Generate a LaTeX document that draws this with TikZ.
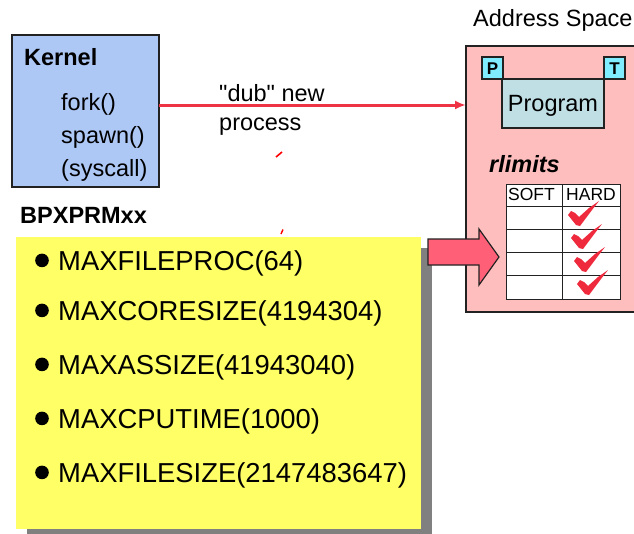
\documentclass[tikz,border=0pt]{standalone}
\usepackage{fontspec}
\setmainfont{Liberation Sans}
\usetikzlibrary{arrows.meta}

\definecolor{kernelblue}{HTML}{AEC8F6}
\definecolor{spacepink}{HTML}{FFBEBE}
\definecolor{tagcyan}{HTML}{80ECFF}
\definecolor{progblue}{HTML}{BFDFE5}
\definecolor{noteyellow}{HTML}{FFFF66}
\definecolor{linkred}{HTML}{EE3344}
\definecolor{arrowred}{HTML}{FF6078}
\definecolor{tickred}{HTML}{EE2A3C}
\definecolor{shadowgray}{HTML}{808080}
\definecolor{edge}{HTML}{222222}

\newcommand{\fsize}[1]{\fontsize{#1}{#1}\selectfont}
% straight double quote, set as a glyph so no quote mapping applies
\newcommand{\sq}{\XeTeXglyph\XeTeXcharglyph"22 }

\tikzset{
  box/.style={draw=edge, line width=1.3pt, inner sep=0pt, outer sep=0pt, anchor=north west},
  txt/.style={inner sep=0pt, anchor=base west, font=\fsize{23.5}},
  tagtxt/.style={inner sep=0pt, anchor=base, font=\fsize{17}\bfseries},
  headtxt/.style={inner sep=0pt, anchor=base west, font=\fsize{17.5}},
  itemtxt/.style={inner sep=0pt, anchor=base west, font=\fsize{27.4}},
  hardtick/.pic={
    \fill[tickred] (0,1) -- (3,-3) -- (7,-1) -- (11,3) -- (21,-6)
      -- (31,-13) -- (24,-4) -- (12,12) -- (8,11) -- cycle;
  }
}

\begin{document}
\begin{tikzpicture}[x=1pt,y=-1pt]
\useasboundingbox (0,0) rectangle (634,533);

% Kernel box
\node[box, fill=kernelblue, minimum width=147pt, minimum height=152pt] (kernel) at (12,35) {};
\node[txt, font=\fsize{23.5}\bfseries] (ktitle) at (24,65) {Kernel};
\node[txt] (fork) at (61,110) {fork()};
\node[txt] (spawn) at (61,143) {spawn()};
\node[txt] (syscall) at (61,176) {(syscall)};

\node[txt, font=\fsize{23.5}\bfseries] (parmlib) at (20,223) {BPXPRMxx};

% Address space
\node[txt] (astitle) at (473,26) {Address Space};
\node[box, fill=spacepink, minimum width=190pt, minimum height=266pt] (addr) at (466,46) {};
\node[box, fill=progblue, minimum width=102pt, minimum height=49pt] (prog) at (502,79) {};
\node[inner sep=0pt, anchor=base, font=\fsize{23.5}] (progtxt) at (553,111) {Program};
\node[box, fill=tagcyan, minimum width=21pt, minimum height=22pt] (ptag) at (482,57) {};
\node[tagtxt] at (492.5,74.5) {P};
\node[box, fill=tagcyan, minimum width=21pt, minimum height=22pt] (ttag) at (604,57) {};
\node[tagtxt] at (614.5,74.5) {T};
\node[txt, font=\fsize{23.5}\bfseries\itshape] (rlim) at (489,172) {rlimits};

% rlimits table
\node[box, draw=none, fill=white, minimum width=114pt, minimum height=115pt] (table) at (506,184) {};
\draw[edge, line width=1pt] (506,184) rectangle (620,299);
\draw[edge, line width=1pt] (562,184) -- (562,299);
\foreach \yy in {206,229,252,275}
  \draw[edge, line width=1pt] (506,\yy) -- (620,\yy);
\node[headtxt] (soft) at (508,200) {SOFT};
\node[headtxt] (hard) at (566,200) {HARD};
\pic at (568,214) {hardtick};
\pic at (571,237) {hardtick};
\pic at (574,260) {hardtick};
\pic at (577,283) {hardtick};

% process creation link
\coordinate (linkrow) at (300,105);
\draw[linkred, line width=3pt, -{Latex[length=11pt,width=9pt]}]
  (kernel.east |- linkrow) -- (addr.west |- linkrow);
\node[txt] (dub) at (219,101) {\sq dub\sq\ new};
\node[txt] (proc) at (219,130) {process};

% stray marks
\draw[red, line width=1.6pt] (276,157) -- (282,152);
\draw[red, line width=1.4pt] (281,234) -- (283,229.5);

% parameter note with shadow
\fill[shadowgray] (27,248) rectangle (432,545);
\node[box, draw=none, fill=noteyellow, minimum width=405pt, minimum height=292pt] (note) at (16,237) {};
\foreach \yb/\label in {270/MAXFILEPROC(64), 320/MAXCORESIZE(4194304),
    374/MAXASSIZE(41943040), 428/MAXCPUTIME(1000), 482/MAXFILESIZE(2147483647)} {
  \fill[black] (42,\yb-9.6) circle (6.8pt);
  \node[itemtxt] at (58,\yb) {\label};
}

% block arrow into the address space
\filldraw[fill=arrowred, draw=edge, line width=1.2pt, line join=miter]
  (428,239) -- (479,239) -- (479,229) -- (499,257) -- (479,285)
  -- (479,265) -- (428,265) -- cycle;
\end{tikzpicture}
\end{document}
